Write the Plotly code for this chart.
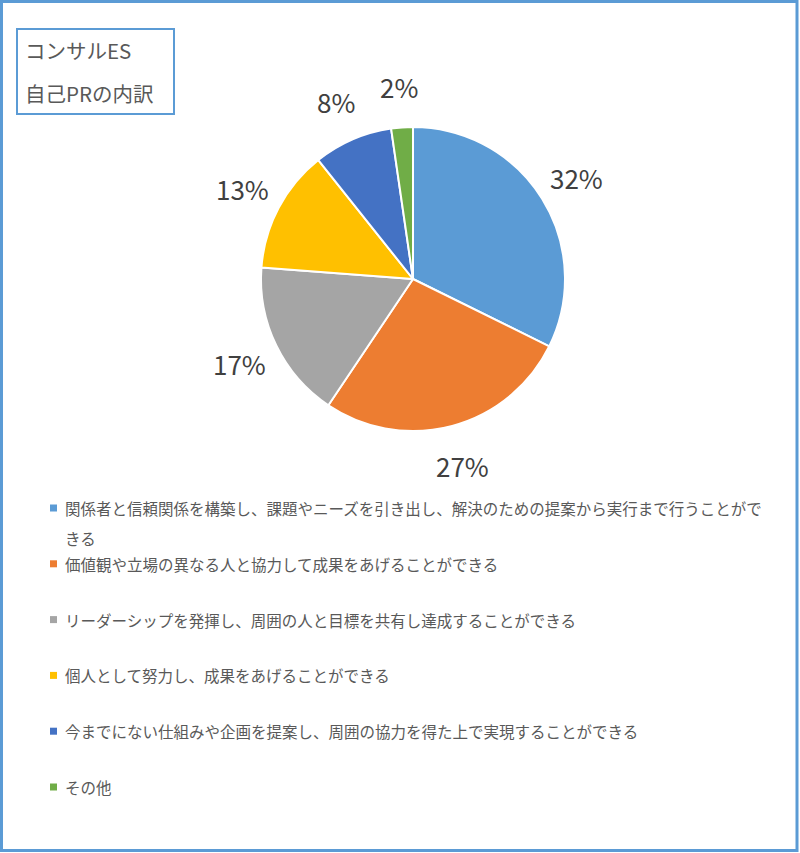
import math
import plotly.graph_objects as go

# slice shares (%)
labels = [
    "関係者と信頼関係を構築し、課題やニーズを引き出し、解決のための提案から実行まで行うことがで<br>きる",
    "価値観や立場の異なる人と協力して成果をあげることができる",
    "リーダーシップを発揮し、周囲の人と目標を共有し達成することができる",
    "個人として努力し、成果をあげることができる",
    "今までにない仕組みや企画を提案し、周囲の協力を得た上で実現することができる",
    "その他",
]
values = [32.3, 27.1, 16.8, 13.1, 8.4, 2.3]
colors = ["#5B9BD5", "#ED7D31", "#A5A5A5", "#FFC000", "#4472C4", "#70AD47"]
title_lines = ["コンサルES", "自己PRの内訳"]

W, H = 800, 853
FONT = "Noto Sans CJK JP"
GREY = "#595959"


def px(x):
    return x / W


def py(y):
    return 1 - y / H


# pie geometry in pixels
cx, cy, r = 413, 279, 152

fig = go.Figure()
fig.add_trace(go.Pie(
    labels=[l.replace("<br>", "") for l in labels], values=values,
    sort=False, direction="clockwise", rotation=0,
    marker=dict(colors=colors, line=dict(color="white", width=2)),
    textinfo="none", showlegend=False,
    domain=dict(x=[px(cx - r), px(cx + r)], y=[py(cy + r), py(cy - r)]),
))

annotations = []
shapes = []

# percent labels outside the slices
total = sum(values)
cum = 0
for v in values:
    mid = (cum + v / 2) / total * 2 * math.pi
    cum += v
    lr = 193
    lx = cx + lr * math.sin(mid)
    ly = cy - lr * math.cos(mid)
    annotations.append(dict(
        x=px(lx), y=py(ly), xref="paper", yref="paper", showarrow=False,
        text=f"{round(v / total * 100)}%", xanchor="center", yanchor="middle",
        font=dict(family=FONT, size=26, color="#404040"),
    ))

# legend drawn by hand (Excel style, two line rows)
y0, step = 508, 55.8
for i, (lab, col) in enumerate(zip(labels, colors)):
    yc = y0 + i * step
    shapes.append(dict(type="rect", xref="paper", yref="paper",
                       x0=px(50), x1=px(57), y0=py(yc + 3.5), y1=py(yc - 3.5),
                       fillcolor=col, line=dict(width=0)))
    for j, part in enumerate(lab.split("<br>")):
        annotations.append(dict(
            x=px(63), y=py(yc + j * 30), xref="paper", yref="paper", showarrow=False,
            text=part, xanchor="left", yanchor="middle",
            font=dict(family=FONT, size=15.5, color=GREY),
        ))

# title box
shapes.append(dict(type="rect", xref="paper", yref="paper",
                   x0=px(17), x1=px(174), y0=py(114), y1=py(29),
                   line=dict(color="#5B9BD5", width=2)))
for j, t in enumerate(title_lines):
    annotations.append(dict(
        x=px(23), y=py(50 + j * 43), xref="paper", yref="paper", showarrow=False,
        text=t, xanchor="left", yanchor="middle",
        font=dict(family=FONT, size=20.5, color=GREY),
    ))

# outer chart border
shapes.append(dict(type="rect", xref="paper", yref="paper",
                   x0=px(1.5), x1=px(797), y0=py(850.5), y1=py(1.5),
                   line=dict(color="#5B9BD5", width=3)))

fig.update_layout(
    width=W, height=H,
    margin=dict(l=0, r=0, t=0, b=0),
    paper_bgcolor="white", plot_bgcolor="white",
    annotations=annotations, shapes=shapes,
)

fig.write_html("out.html", config={"displayModeBar": False},
               post_script="document.body.style.margin='0';")
